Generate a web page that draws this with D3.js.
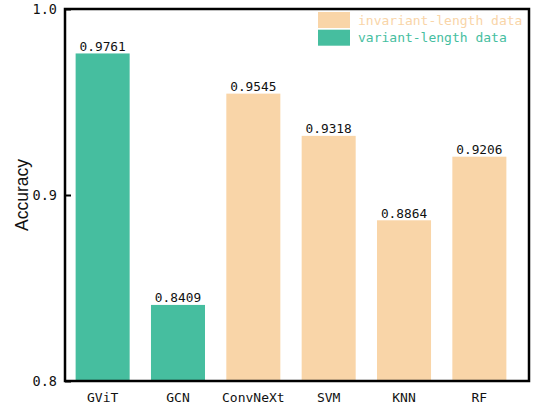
<!DOCTYPE html>
<html>
<head>
<meta charset="utf-8">
<script src="https://cdn.jsdelivr.net/npm/d3@7"></script>
<style>
  html, body { margin: 0; padding: 0; background: #fff; }
  svg { display: block; }
</style>
</head>
<body>
<svg id="chart" width="535" height="408"></svg>
<script>
// Model accuracy comparison
const models = ["GViT", "GCN", "ConvNeXt", "SVM", "KNN", "RF"];
const accuracy = [0.9761, 0.8409, 0.9545, 0.9318, 0.8864, 0.9206];
const dataKind = ["variant", "variant", "invariant", "invariant", "invariant", "invariant"];
const yTicks = [0.8, 0.9, 1.0];
const legendKeys = ["invariant", "variant"];
const legendLabels = ["invariant-length data", "variant-length data"];

const colors = { variant: "#46be9f", invariant: "#f9d5a8" };
const mono = "'DejaVu Sans Mono', monospace";

const svg = d3.select("#chart");
const plot = { left: 65, right: 529, top: 9, bottom: 381 };

const x = d3.scaleBand().domain(models).range([65, 517]).paddingInner(0.283).paddingOuter(0.141);
const y = d3.scaleLinear().domain([0.8, 1.0]).range([plot.bottom, plot.top]);

// bars
svg.append("g").selectAll("rect")
  .data(models)
  .join("rect")
  .attr("x", d => x(d))
  .attr("width", x.bandwidth())
  .attr("y", (d, i) => y(accuracy[i]))
  .attr("height", (d, i) => y(0.8) - y(accuracy[i]))
  .attr("fill", (d, i) => colors[dataKind[i]]);

// value labels
svg.append("g").selectAll("text")
  .data(models)
  .join("text")
  .attr("x", d => x(d) + x.bandwidth() / 2)
  .attr("y", (d, i) => y(accuracy[i]) - 2.5)
  .attr("text-anchor", "middle")
  .attr("font-family", mono)
  .attr("font-size", 12.8)
  .attr("fill", "#111")
  .text((d, i) => accuracy[i].toFixed(4));

// y axis (ticks inward)
const yAxis = d3.axisLeft(y).tickValues(yTicks).tickSize(-6).tickPadding(8)
  .tickFormat(d3.format(".1f"));
const gy = svg.append("g").attr("transform", `translate(${plot.left},0)`).call(yAxis);
gy.select(".domain").remove();
gy.selectAll(".tick line").attr("stroke", "#000").attr("stroke-width", 2);
gy.selectAll(".tick text").attr("font-family", mono).attr("font-size", 13.5)
  .attr("fill", "#111");

// x axis labels
const xAxis = d3.axisBottom(x).tickSize(0).tickPadding(12);
const gx = svg.append("g").attr("transform", `translate(0,${plot.bottom})`).call(xAxis);
gx.select(".domain").remove();
gx.selectAll(".tick text").attr("font-family", mono).attr("font-size", 13)
  .attr("fill", "#111");

// frame
svg.append("rect")
  .attr("x", plot.left).attr("y", plot.top)
  .attr("width", plot.right - plot.left).attr("height", plot.bottom - plot.top)
  .attr("fill", "none").attr("stroke", "#000").attr("stroke-width", 2.5);

// y title
svg.append("text")
  .attr("transform", `translate(28,${(plot.top + plot.bottom) / 2}) rotate(-90)`)
  .attr("text-anchor", "middle")
  .attr("font-family", "'Liberation Sans', Arial, sans-serif")
  .attr("font-size", 17.5)
  .attr("fill", "#111")
  .text("Accuracy");

// legend
const lg = svg.append("g").attr("transform", "translate(318,12)");
legendKeys.forEach((k, i) => {
  lg.append("rect").attr("x", 0).attr("y", i * 17.7).attr("width", 32).attr("height", 16)
    .attr("fill", colors[k]);
  lg.append("text").attr("x", 40).attr("y", i * 17.7 + 12.5)
    .attr("font-family", mono).attr("font-size", 13)
    .attr("fill", colors[k])
    .text(legendLabels[i]);
});
</script>
</body>
</html>
